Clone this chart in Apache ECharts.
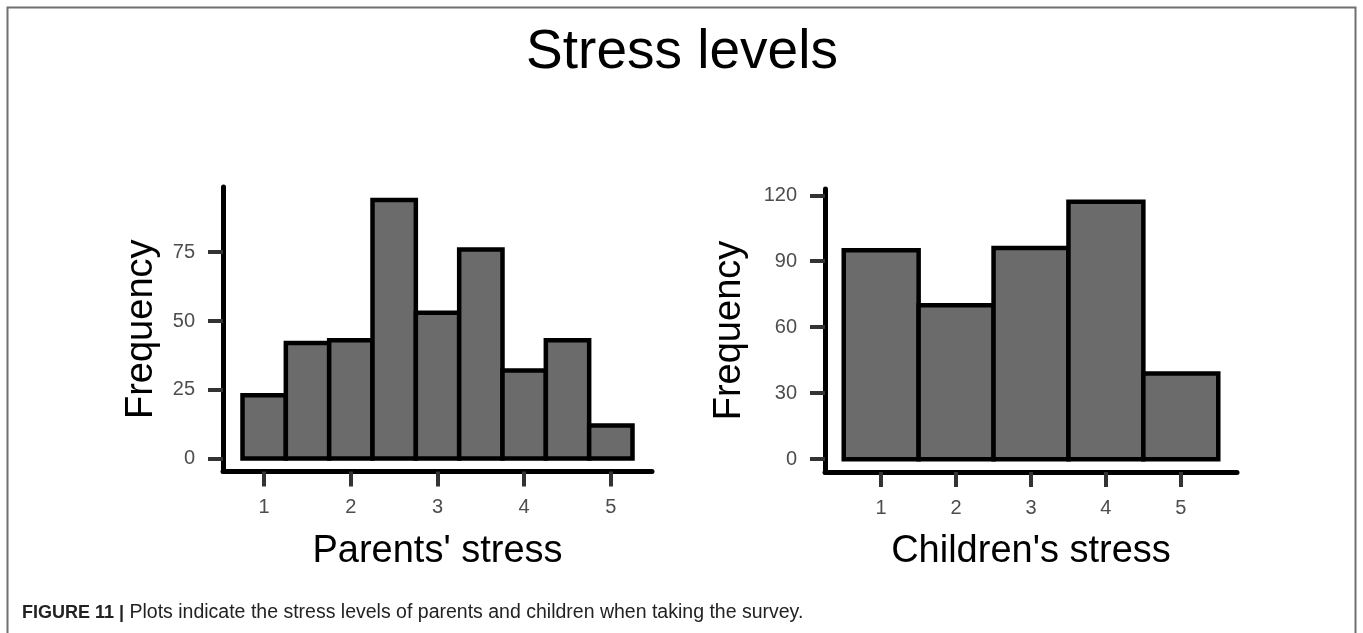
<!DOCTYPE html>
<html>
<head>
<meta charset="utf-8">
<script src="https://cdn.jsdelivr.net/npm/echarts@6/dist/echarts.min.js"></script>
<style>
html,body{margin:0;padding:0;background:#fff;}
#c{width:1363px;height:633px;}
</style>
</head>
<body>
<div id="c"></div>
<script>
// ---- data ----
const titleText = "Stress levels";
const captionBold = "FIGURE 11 |";
const captionText = " Plots indicate the stress levels of parents and children when taking the survey.";

const parentsBins = [1, 1.5, 2, 2.5, 3, 3.5, 4, 4.5, 5];
const parentsCounts = [23, 42, 43, 94, 53, 76, 32, 43, 12];
const parentsBinWidth = 0.5;
const parentsYTicks = [0, 25, 50, 75];
const parentsXTicks = [1, 2, 3, 4, 5];
const parentsXName = "Parents' stress";

const childrenBins = [1, 2, 3, 4, 5];
const childrenCounts = [95, 70, 96, 117, 39];
const childrenBinWidth = 1;
const childrenYTicks = [0, 30, 60, 90, 120];
const childrenXTicks = [1, 2, 3, 4, 5];
const childrenXName = "Children's stress";

const yName = "Frequency";

// ---- helpers ----
function histData(bins, counts, w) {
  return bins.map((b, i) => [b, w, counts[i]]);
}
function xRange(bins, w) {
  const lo = bins[0] - w / 2, hi = bins[bins.length - 1] + w / 2;
  const pad = (hi - lo) * 0.05;
  return [lo - pad, hi + pad];
}
function yRange(counts) {
  const hi = Math.max.apply(null, counts);
  return [-hi * 0.05, hi * 1.05];
}
function renderHist(params, api) {
  const c = api.value(0), w = api.value(1), n = api.value(2);
  const tl = api.coord([c - w / 2, n]);
  const br = api.coord([c + w / 2, 0]);
  return {
    type: 'rect',
    shape: { x: tl[0], y: tl[1], width: br[0] - tl[0], height: br[1] - tl[1] },
    style: { fill: '#6b6b6b', stroke: '#000', lineWidth: 4.5, lineJoin: 'miter' }
  };
}

const FONT = "'Liberation Sans', Arial, Helvetica, sans-serif";
const labelStyle = { color: '#4d4d4d', fontSize: 20, fontFamily: FONT };
const nameStyle = { color: '#000', fontSize: 38, fontFamily: FONT };

function makeX(gridIndex, bins, w, ticks, name) {
  const r = xRange(bins, w);
  return {
    type: 'value', gridIndex: gridIndex, min: r[0], max: r[1],
    name: name, nameLocation: 'middle', nameGap: 61, nameTextStyle: nameStyle,
    splitLine: { show: false },
    axisLine: { onZero: false, lineStyle: { color: '#000', width: 5 } },
    axisTick: { customValues: ticks, length: 15, lineStyle: { color: '#333', width: 4 } },
    axisLabel: Object.assign({ customValues: ticks, margin: 26 }, labelStyle)
  };
}
function makeY(gridIndex, counts, ticks, gap) {
  const r = yRange(counts);
  return {
    type: 'value', gridIndex: gridIndex, min: r[0], max: r[1],
    name: yName, nameLocation: 'middle', nameGap: gap, nameTextStyle: nameStyle,
    splitLine: { show: false },
    axisLine: { show: true, onZero: false, lineStyle: { color: '#000', width: 5 } },
    axisTick: { show: true, customValues: ticks, length: 15, lineStyle: { color: '#333', width: 4 } },
    axisLabel: Object.assign({ customValues: ticks, margin: 28 }, labelStyle)
  };
}

const chart = echarts.init(document.getElementById('c'), null, { renderer: 'canvas' });
chart.setOption({
  backgroundColor: '#fff',
  animation: false,
  title: {
    text: titleText, left: 677, top: 20, textAlign: 'center',
    textStyle: { fontSize: 55, fontWeight: 'normal', color: '#000', fontFamily: FONT }
  },
  graphic: [
    { type: 'rect', shape: { x: 7.5, y: 7.5, width: 1348, height: 700 },
      style: { fill: 'none', stroke: '#707070', lineWidth: 2 }, silent: true },
    { type: 'text', left: 22, top: 603,
      style: {
        text: '{b|' + captionBold + '}' + captionText,
        fontSize: 19.5, fontFamily: FONT, fill: '#222',
        rich: { b: { fontWeight: 'bold', fontSize: 18, fontFamily: FONT, fill: '#222' } }
      } }
  ],
  grid: [
    { left: 223, top: 187, right: 711, bottom: 161.5 },
    { left: 825, top: 189, right: 126, bottom: 161 }
  ],
  xAxis: [
    makeX(0, parentsBins, parentsBinWidth, parentsXTicks, parentsXName),
    makeX(1, childrenBins, childrenBinWidth, childrenXTicks, childrenXName)
  ],
  yAxis: [
    makeY(0, parentsCounts, parentsYTicks, 62),
    makeY(1, childrenCounts, childrenYTicks, 76)
  ],
  series: [
    { type: 'custom', xAxisIndex: 0, yAxisIndex: 0, renderItem: renderHist,
      encode: { x: 0, y: 2 }, data: histData(parentsBins, parentsCounts, parentsBinWidth), clip: false },
    { type: 'custom', xAxisIndex: 1, yAxisIndex: 1, renderItem: renderHist,
      encode: { x: 0, y: 2 }, data: histData(childrenBins, childrenCounts, childrenBinWidth), clip: false }
  ]
});
</script>
</body>
</html>
